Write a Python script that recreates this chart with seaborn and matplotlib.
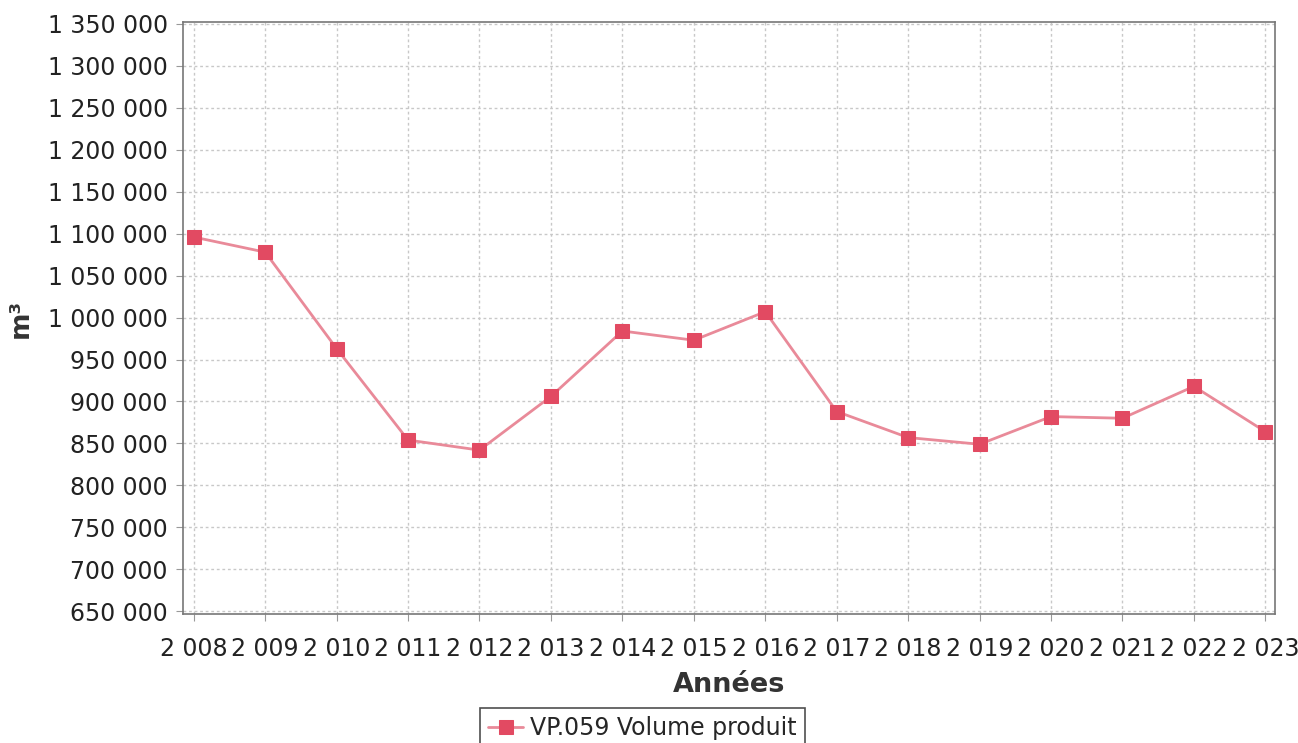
import matplotlib
matplotlib.use('Agg')
import matplotlib.pyplot as plt
from matplotlib.ticker import FuncFormatter, MultipleLocator
import seaborn as sns
import pandas as pd

# données
annees = [2008, 2009, 2010, 2011, 2012, 2013, 2014, 2015,
          2016, 2017, 2018, 2019, 2020, 2021, 2022, 2023]
volume = [1096000, 1078000, 963000, 854000, 842000, 906000, 984000, 973000,
          1007000, 888000, 857000, 849000, 882000, 880000, 918000, 864000]
serie = 'VP.059 Volume produit'

df = pd.DataFrame({'Années': annees, 'm³': volume})

sns.set_style('whitegrid')
plt.rcParams['font.family'] = ['DejaVu Sans']

fig = plt.figure(figsize=(12.98, 7.43), dpi=100)
ax = fig.add_axes([0.141, 0.174, 0.841, 0.796])

rouge = '#e24a62'
sns.lineplot(data=df, x='Années', y='m³', ax=ax, color='#e98a99', linewidth=2,
             marker='s', markersize=10, markerfacecolor=rouge, markeredgecolor=rouge,
             label=serie)

# axes
ax.set_xlim(2007.85, 2023.13)
ax.set_ylim(647000, 1352000)
ax.xaxis.set_major_locator(MultipleLocator(1))
ax.yaxis.set_major_locator(MultipleLocator(50000))
fmt = FuncFormatter(lambda v, p: f'{int(round(v)):,}'.replace(',', ' '))
ax.xaxis.set_major_formatter(fmt)
ax.yaxis.set_major_formatter(fmt)
ax.tick_params(axis='both', labelsize=17, colors='#222222', length=5,
               direction='out', color='#999999', left=True, bottom=True)
ax.tick_params(axis='x', pad=12)
ax.tick_params(axis='y', pad=6)
ax.set_xlabel('Années', fontsize=19.5, fontweight='bold', color='#333333', labelpad=8)
ax.set_ylabel('m³', fontsize=19, fontweight='bold', color='#333333', labelpad=10)

# grille pointillée
ax.grid(True, color='#c8c8c8', linestyle=(0, (2, 2)), linewidth=1)
for s in ax.spines.values():
    s.set_color('#777777')
    s.set_linewidth(1.2)

# légende en bas
leg = ax.legend(loc='upper center', bbox_to_anchor=(0.495, 0.047),
                bbox_transform=fig.transFigure, fontsize=17, frameon=True,
                fancybox=False, edgecolor='#222222', handlelength=1.5,
                handletextpad=0.3, borderpad=0.35, borderaxespad=0)
leg.get_frame().set_linewidth(1.2)

fig.savefig('out.png', dpi=100)
